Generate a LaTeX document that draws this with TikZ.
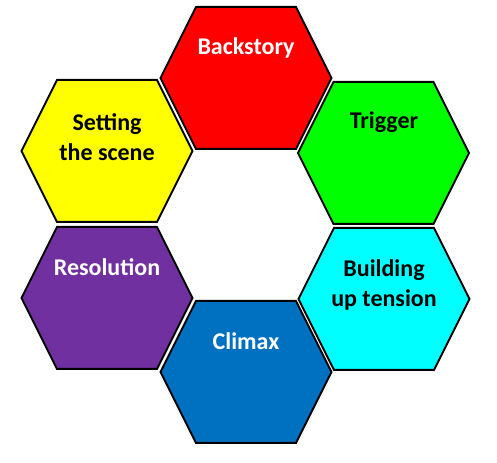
\documentclass[tikz,border=0pt]{standalone}
\usepackage{fontspec}
\setmainfont{Carlito}

\definecolor{backred}{HTML}{FF0000}
\definecolor{triggergreen}{HTML}{00FF00}
\definecolor{tensioncyan}{HTML}{00FFFF}
\definecolor{climaxblue}{HTML}{0070C0}
\definecolor{resolpurple}{HTML}{7030A0}
\definecolor{sceneyellow}{HTML}{FFFF00}

\begin{document}
\begin{tikzpicture}[
        x=0.75pt, y=-0.75pt,
        hexline/.style={draw=black, line width=1.5pt},
        caption/.style={font=\fontsize{18}{22.5}\selectfont\bfseries, align=center, inner sep=0pt},
        lightcaption/.style={caption, text=white},
        darkcaption/.style={caption, text=black}
    ]

    \useasboundingbox (0,0) rectangle (497,463);

    % centres of the six cells
    \coordinate (back) at (246,78);
    \coordinate (trig) at (383.5,153);
    \coordinate (tens) at (384,299);
    \coordinate (clim) at (246,372);
    \coordinate (reso) at (107,298);
    \coordinate (scen) at (107,151);

    \draw[hexline, fill=backred] (back) ++(-85.5,0) -- ++(35.5,-71) -- ++(100,0) -- ++(35.5,71) -- ++(-35.5,71) -- ++(-100,0) -- cycle;
    \draw[hexline, fill=triggergreen] (trig) ++(-85.5,0) -- ++(35.5,-71) -- ++(100,0) -- ++(35.5,71) -- ++(-35.5,71) -- ++(-100,0) -- cycle;
    \draw[hexline, fill=tensioncyan] (tens) ++(-85.5,0) -- ++(35.5,-71) -- ++(100,0) -- ++(35.5,71) -- ++(-35.5,71) -- ++(-100,0) -- cycle;
    \draw[hexline, fill=climaxblue] (clim) ++(-85.5,0) -- ++(35.5,-71) -- ++(100,0) -- ++(35.5,71) -- ++(-35.5,71) -- ++(-100,0) -- cycle;
    \draw[hexline, fill=resolpurple] (reso) ++(-85.5,0) -- ++(35.5,-71) -- ++(100,0) -- ++(35.5,71) -- ++(-35.5,71) -- ++(-100,0) -- cycle;
    \draw[hexline, fill=sceneyellow] (scen) ++(-85.5,0) -- ++(35.5,-71) -- ++(100,0) -- ++(35.5,71) -- ++(-35.5,71) -- ++(-100,0) -- cycle;

    % texts
    \node[lightcaption] (backstory) at (246,48) {Backstory};
    \node[darkcaption] (trigger) at (384,122) {Trigger};
    \node[darkcaption] (tension) at (384,285) {Building\\up tension};
    \node[lightcaption] (climax) at (246,341) {Climax};
    \node[lightcaption] (resolution) at (107,267) {Resolution};
    \node[darkcaption] (scene) at (107,137) {Setting\\the scene};
\end{tikzpicture}
\end{document}
